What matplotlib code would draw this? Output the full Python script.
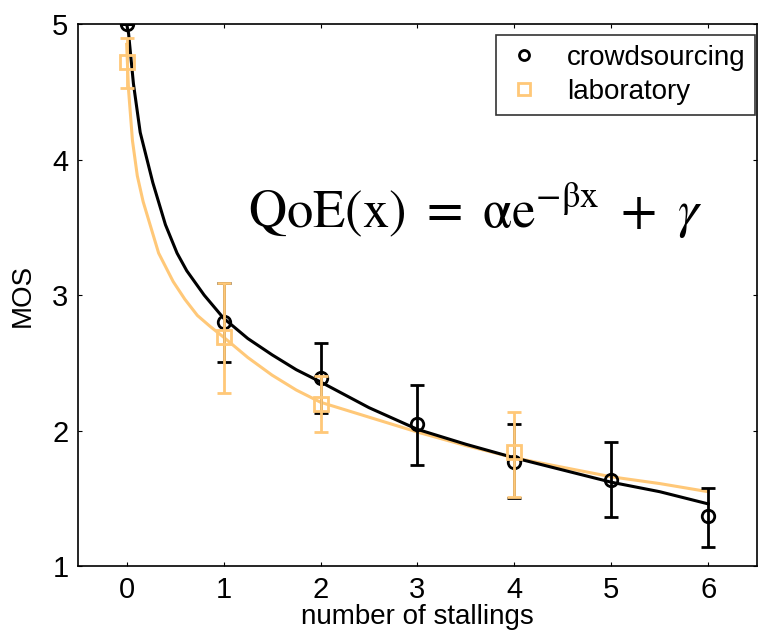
import matplotlib
matplotlib.use("Agg")
import matplotlib.pyplot as plt

plt.rcParams["font.family"] = ["Liberation Sans", "DejaVu Sans"]
plt.rcParams["mathtext.fontset"] = "stix"

# measured points
stallings = [0, 1, 2, 3, 4, 5, 6]
crowd_mos = [5.0, 2.80, 2.39, 2.05, 1.77, 1.64, 1.37]
crowd_lo = [0.0, 0.29, 0.26, 0.30, 0.27, 0.28, 0.23]
crowd_hi = [0.0, 0.29, 0.26, 0.29, 0.28, 0.28, 0.21]

lab_x = [0, 1, 2, 4]
lab_mos = [4.72, 2.69, 2.20, 1.84]
lab_lo = [0.19, 0.41, 0.21, 0.33]
lab_hi = [0.18, 0.40, 0.20, 0.30]

# fitted curves
crowd_fit_x = [0.0, 0.02, 0.07, 0.14, 0.27, 0.40, 0.52, 0.62, 0.80, 1.0, 1.25, 1.5, 1.75, 2.0, 2.5, 3.0, 3.5, 4.0, 4.5, 5.0, 5.5, 6.0]
crowd_fit_y = [5.0, 4.93, 4.56, 4.20, 3.83, 3.52, 3.31, 3.18, 3.00, 2.83, 2.68, 2.56, 2.45, 2.36, 2.17, 2.01, 1.90, 1.80, 1.71, 1.62, 1.55, 1.46]
lab_fit_x = [0.0, 0.02, 0.06, 0.11, 0.17, 0.25, 0.33, 0.48, 0.60, 0.73, 0.86, 1.0, 1.25, 1.5, 1.75, 2.0, 2.5, 3.0, 3.5, 4.0, 4.5, 5.0, 5.5, 6.0]
lab_fit_y = [4.85, 4.51, 4.14, 3.88, 3.69, 3.50, 3.31, 3.10, 2.97, 2.85, 2.77, 2.69, 2.54, 2.41, 2.30, 2.21, 2.10, 1.99, 1.89, 1.80, 1.73, 1.66, 1.61, 1.55]

orange = "#FFC878"

fig = plt.figure(figsize=(7.59, 6.32), dpi=100)
ax = fig.add_axes([0.103, 0.104, 0.894, 0.858])

ax.plot(crowd_fit_x, crowd_fit_y, color="black", lw=2.2, zorder=3)
ax.plot(lab_fit_x, lab_fit_y, color=orange, lw=2.2, zorder=2)

ax.errorbar(stallings, crowd_mos, yerr=[crowd_lo, crowd_hi], fmt="o", color="black",
            mfc="none", mec="black", ms=9, mew=2, elinewidth=2, capsize=5, capthick=2,
            label="crowdsourcing", zorder=4)
ax.errorbar(lab_x, lab_mos, yerr=[lab_lo, lab_hi], fmt="s", color=orange,
            mfc="none", mec=orange, ms=10, mew=2, elinewidth=2, capsize=5, capthick=2,
            label="laboratory", zorder=5)

ax.text(1.25, 3.62, r"$\mathrm{QoE(x)}\ =\ \mathrm{\alpha e}^{-\mathrm{\beta x}}\ +\ \gamma$",
        fontsize=38, ha="left", va="center")

ax.set_xlim(-0.5, 6.5)
ax.set_ylim(1, 5)
ax.set_xticks(stallings)
ax.set_yticks([1, 2, 3, 4, 5])
ax.tick_params(direction="in", length=3, width=0.8, labelsize=21, top=True, right=True, pad=7)
ax.set_xlabel("number of stallings", fontsize=20, labelpad=0)
ax.set_ylabel("MOS", fontsize=20, labelpad=12)
for s in ax.spines.values():
    s.set_linewidth(1.2)

handles, labels = ax.get_legend_handles_labels()
handles = [h[0] for h in handles]
leg = ax.legend(handles, labels, loc="upper right", fontsize=20, frameon=True, fancybox=False,
                edgecolor="black", handlelength=1.3, handletextpad=0.9, borderpad=0.35,
                labelspacing=0.3, borderaxespad=0, markerscale=0.8,
                bbox_to_anchor=(0.998, 0.98))
leg.get_frame().set_linewidth(1.2)

fig.savefig("out.png", dpi=100)
